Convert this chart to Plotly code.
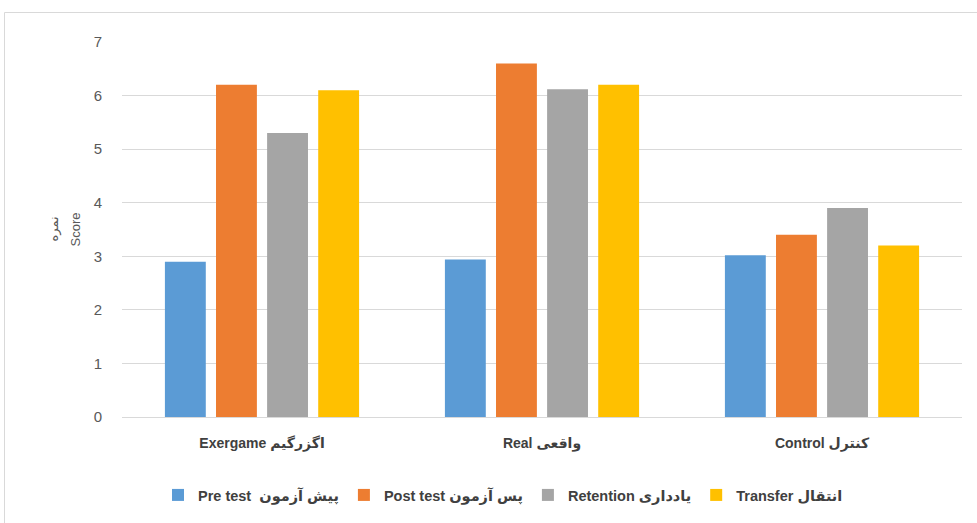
import plotly.graph_objects as go

categories = ["<b>Exergame اگزرگیم</b>", "<b>Real واقعی</b>", "<b>Control کنترل</b>"]
series_names = ["<b>Pre test  پیش آزمون</b>", "<b>Post test پس آزمون</b>",
                "<b>Retention یادداری</b>", "<b>Transfer انتقال</b>"]
pre_test = [2.9, 2.94, 3.02]
post_test = [6.2, 6.6, 3.4]
retention = [5.3, 6.12, 3.9]
transfer = [6.1, 6.2, 3.2]
colors = ["#5B9BD5", "#ED7D31", "#A5A5A5", "#FFC000"]
y_ticks = [0, 1, 2, 3, 4, 5, 6, 7]
y_title_lines = ["نمره", "Score"]

FONT = "Liberation Sans, DejaVu Sans, sans-serif"

fig = go.Figure()
for name, vals, col in zip(series_names, [pre_test, post_test, retention, transfer], colors):
    fig.add_trace(go.Bar(x=categories, y=vals, name=name, marker_color=col,
                         marker_line_width=0))

W, H = 977, 523
L, R, T, B = 122, 15, 42, 106
pw = W - L - R
ph = H - T - B

annots = []
for txt, px in zip(y_title_lines, [53, 75]):
    annots.append(dict(text=txt, textangle=-90, xref="paper", yref="paper",
                       x=(px - L) / pw, y=0.5, xanchor="center", yanchor="middle",
                       showarrow=False, font=dict(size=13, color="#595959", family=FONT)))

fig.update_layout(
    width=W, height=H,
    margin=dict(l=L, r=R, t=T, b=B),
    paper_bgcolor="white", plot_bgcolor="white",
    barmode="group", bargap=0.27, bargroupgap=0.2,
    font=dict(family=FONT, color="#595959"),
    showlegend=True,
    legend=dict(orientation="h", x=(158 - L) / pw, xanchor="left",
                y=(ph - (495 - T)) / ph, yanchor="middle",
                font=dict(size=14.5, color="#404040"), traceorder="normal",
                itemwidth=30),
    xaxis=dict(showgrid=False, showline=False, zeroline=False,
               tickfont=dict(size=14, color="#404040"),
               ticks="outside", ticklen=0, ticklabelstandoff=13),
    yaxis=dict(range=[0, 7], tickvals=y_ticks, showgrid=True, gridcolor="#D9D9D9",
               gridwidth=1, zeroline=True, zerolinecolor="#D9D9D9", zerolinewidth=1,
               showline=False, tickfont=dict(size=15, color="#595959"),
               ticks="outside", ticklen=0, ticklabelstandoff=16),
    annotations=annots,
    shapes=[dict(type="rect", xref="paper", yref="paper",
                 x0=(4.5 - L) / pw, x1=2, y0=-2, y1=(ph - (12.5 - T)) / ph,
                 line=dict(color="#D9D9D9", width=1), layer="below")],
)

fig.write_html("out.html")
